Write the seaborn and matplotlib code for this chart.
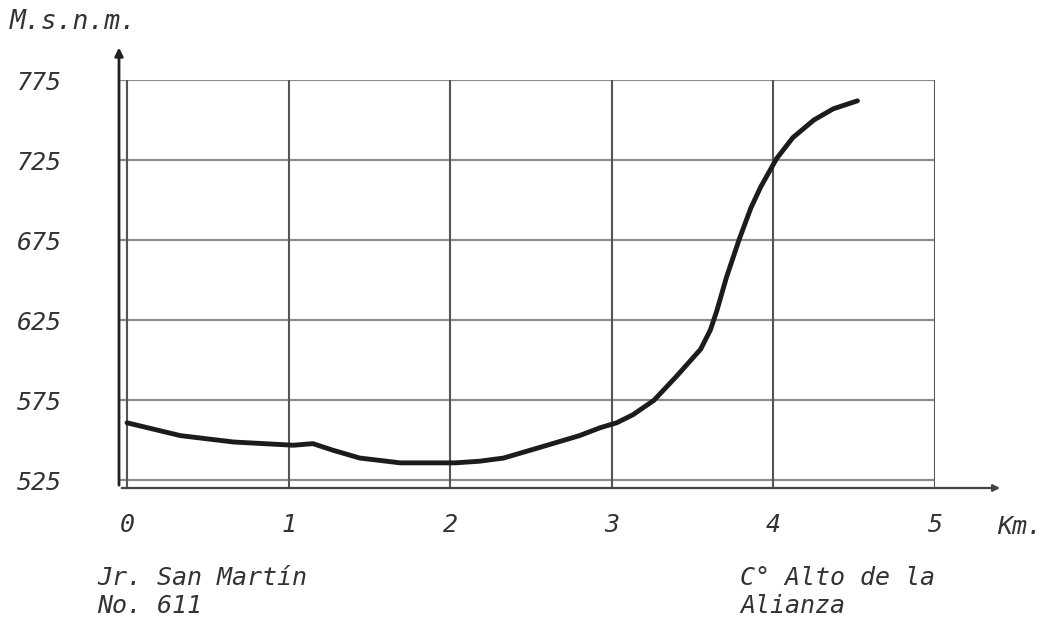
import matplotlib
matplotlib.use("Agg")
import matplotlib.pyplot as plt
import numpy as np
import pandas as pd
import seaborn as sns

sns.set_style("white")
plt.rcParams['font.family'] = ['DejaVu Sans Mono', 'DejaVu Sans']

# profile: distance (km) vs elevation (m.s.n.m.)
km = [0.0, 0.33, 0.66, 1.03, 1.15, 1.27, 1.44, 1.69, 2.03, 2.18, 2.33, 2.6,
      2.8, 2.93, 3.03, 3.13, 3.26, 3.40, 3.55, 3.61, 3.65, 3.71, 3.79, 3.86,
      3.92, 4.02, 4.12, 4.25, 4.37, 4.52]
elev = [561, 553, 549, 547, 548, 544, 539, 536, 536, 537, 539, 547,
        553, 558, 561, 566, 575, 590, 607, 619, 631, 652, 676, 695,
        708, 726, 739, 750, 757, 762]

x_ticks = [0, 1, 2, 3, 4, 5]
y_ticks = [525, 575, 625, 675, 725, 775]

df = pd.DataFrame({"km": km, "elev": elev})

text_col = "#333333"

fig = plt.figure(figsize=(10.45, 6.25), dpi=100)
ax = fig.add_axes([119 / 1045, 1 - 488 / 625, 816 / 1045, 408 / 625])

sns.lineplot(data=df, x="km", y="elev", ax=ax, color="#1c1c1c", linewidth=3.5,
             solid_joinstyle="round", solid_capstyle="round")

ax.set_xlim(-0.05, 5.0)
ax.set_ylim(520.3, 775)
ax.set_xticks(x_ticks)
ax.set_yticks(y_ticks)
ax.set_xticklabels([str(t) for t in x_ticks])
ax.set_yticklabels([str(t) for t in y_ticks])
ax.set_xlabel("")
ax.set_ylabel("")
for s in ax.spines.values():
    s.set_visible(False)

# grid lines: horizontals lighter, verticals darker
for v in y_ticks:
    ax.axhline(v, color="#8c8c8c", linewidth=1.6, zorder=0)
for v in x_ticks:
    ax.axvline(v, color="#555555", linewidth=1.5, zorder=0)

ax.tick_params(axis="y", length=0, pad=41, labelsize=18, labelcolor=text_col)
ax.tick_params(axis="x", length=0, pad=18, labelsize=18, labelcolor=text_col)
for lab in ax.get_xticklabels() + ax.get_yticklabels():
    lab.set_fontstyle("italic")

# axis arrows
ax.annotate("", xy=(-0.05, 797), xytext=(-0.05, 520.3),
            arrowprops=dict(arrowstyle="-|>", color="#222222", lw=2,
                            mutation_scale=12),
            annotation_clip=False)
ax.annotate("", xy=(5.42, 520.3), xytext=(-0.05, 520.3),
            arrowprops=dict(arrowstyle="-|>", color="#444444", lw=1.6,
                            mutation_scale=10),
            annotation_clip=False)

fig.text(10 / 1045, 1 - 22 / 625, "M.s.n.m.", fontsize=19, style="italic",
         color=text_col, va="center", ha="left")
fig.text(1020 / 1045, 1 - 527 / 625, "Km.", fontsize=18, style="italic",
         color=text_col, va="center", ha="center")
fig.text(97 / 1045, 1 - 592 / 625, "Jr. San Martín\nNo. 611", fontsize=18,
         style="italic", color=text_col, va="center", ha="left",
         linespacing=1.25)
fig.text(740 / 1045, 1 - 592 / 625, "C° Alto de la\nAlianza", fontsize=18,
         style="italic", color=text_col, va="center", ha="left",
         linespacing=1.25)

fig.savefig("out.png", dpi=100)
